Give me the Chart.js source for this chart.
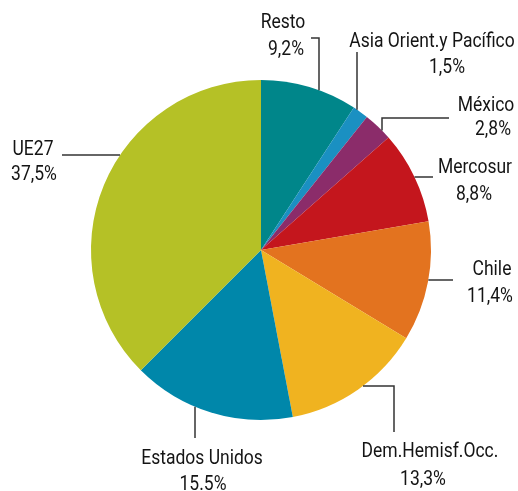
<!DOCTYPE html>
<html>
<head>
<meta charset="utf-8">
<script src="https://cdn.jsdelivr.net/npm/chart.js@4/dist/chart.umd.min.js"></script>
<style>
  html, body { margin: 0; padding: 0; background: #fff; }
  canvas { display: block; }
</style>
</head>
<body>
<canvas id="chart-destinos" width="518" height="491"></canvas>
<script>
// Shares by destination (%), clockwise from 12 o'clock
const regions = ['Resto', 'Asia Orient.y Pacífico', 'México', 'Mercosur', 'Chile', 'Dem.Hemisf.Occ.', 'Estados Unidos', 'UE27'];
const shares = [9.2, 1.5, 2.8, 8.8, 11.4, 13.3, 15.5, 37.5];
const decimalMarks = [',', ',', ',', ',', ',', ',', '.', ','];
const sliceColors = ['#00868a', '#1a90c2', '#8b2c6a', '#c4161d', '#e3731f', '#f0b320', '#0087aa', '#b5c126'];

// Label placement: [name x, name baseline, pct x, pct baseline]
const labelPos = [
    [283, 28, 286, 55],
    [432, 47, 447, 73],
    [486, 111, 493, 135],
    [475, 173, 474, 200],
    [492, 275, 490, 302],
    [430, 457, 423, 485],
    [202, 464, 203, 490],
    [33, 155, 34, 180]
];

// Leader lines: fixed points from the label, then a last run ('v' or 'h') that stops at the pie edge
const leaders = [
    { pts: [[311, 38], [319, 38]], end: 'v' },
    { pts: [[357, 52]], end: 'v' },
    { pts: [[449, 118], [382, 118]], end: 'v' },
    { pts: [[433, 177]], end: 'h' },
    { pts: [[453, 280]], end: 'h' },
    { pts: [[394, 432], [394, 386]], end: 'h' },
    { pts: [[195, 438]], end: 'v' },
    { pts: [[62, 155]], end: 'h' }
];

function pctText(i) {
    return shares[i].toFixed(1).replace('.', decimalMarks[i]) + '%';
}

const calloutPlugin = {
    id: 'callouts',
    afterDraw(chart) {
        const ctx = chart.ctx;
        const arc = chart.getDatasetMeta(0).data[0];
        const cx = arc.x, cy = arc.y, r = arc.outerRadius;

        ctx.save();
        ctx.strokeStyle = '#333333';
        ctx.lineWidth = 1.5;
        leaders.forEach(l => {
            const last = l.pts[l.pts.length - 1];
            let endPt;
            if (l.end === 'v') {
                const dx = last[0] - cx;
                const dy = Math.sqrt(Math.max(0, r * r - dx * dx));
                endPt = [last[0], last[1] < cy ? cy - dy : cy + dy];
            } else {
                const dy = last[1] - cy;
                const dx = Math.sqrt(Math.max(0, r * r - dy * dy));
                endPt = [last[0] < cx ? cx - dx : cx + dx, last[1]];
            }
            ctx.beginPath();
            ctx.moveTo(l.pts[0][0], l.pts[0][1]);
            l.pts.slice(1).forEach(p => ctx.lineTo(p[0], p[1]));
            ctx.lineTo(endPt[0], endPt[1]);
            ctx.stroke();
        });

        // condensed look: squeeze the text horizontally
        const squeeze = 0.875;
        ctx.fillStyle = '#141414';
        ctx.font = '20px Roboto';
        ctx.textAlign = 'center';
        ctx.textBaseline = 'alphabetic';
        const put = (txt, x, y) => {
            ctx.save();
            ctx.translate(x, y);
            ctx.scale(squeeze, 1);
            ctx.fillText(txt, 0, 0);
            ctx.restore();
        };
        regions.forEach((name, i) => {
            const p = labelPos[i];
            put(name, p[0], p[1]);
            put(pctText(i), p[2], p[3]);
        });
        ctx.restore();
    }
};

new Chart(document.getElementById('chart-destinos'), {
    type: 'pie',
    data: {
        labels: regions,
        datasets: [{
            data: shares,
            backgroundColor: sliceColors,
            borderWidth: 0
        }]
    },
    options: {
        responsive: false,
        animation: false,
        layout: { padding: { left: 91, right: 87, top: 80, bottom: 71 } },
        plugins: {
            legend: { display: false },
            tooltip: { enabled: false }
        }
    },
    plugins: [calloutPlugin]
});
</script>
</body>
</html>
